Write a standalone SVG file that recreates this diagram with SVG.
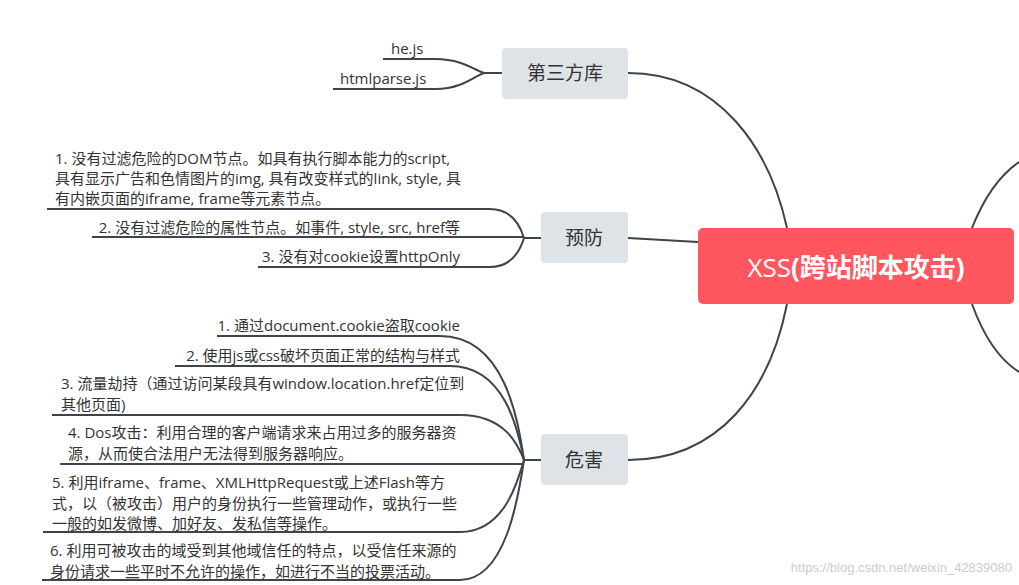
<svg xmlns="http://www.w3.org/2000/svg" width="1019" height="585" viewBox="0 0 1019 585">
<style>
.c{fill:none;stroke:#3d444c;stroke-width:2}
.n{fill:#dde3e6}
.nt{font-family:"Open Sans","Noto Sans CJK SC",sans-serif;font-size:19px;fill:#333;text-anchor:middle}
.t{font-family:"Open Sans","Noto Sans CJK SC",sans-serif;font-size:15px;fill:#333}
.e{text-anchor:end}
</style>
<rect width="1019" height="585" fill="#fff"/>
<g id="connectors">
<path class="c" d="M628,73 C720,73 770,150 787,228"/>
<path class="c" d="M628,460 C720,460 770,390 787,304"/>
<path class="c" d="M628,238 L698,242"/>
<path class="c" d="M972,228 C985,195 1000,175 1019,162"/>
<path class="c" d="M972,304 C985,340 1000,360 1019,372"/>
<path class="c" d="M383,59 H435 C465,59 478,73 485,73 H502"/>
<path class="c" d="M333,89 H435 C465,89 478,73 485,73"/>
<path class="c" d="M47,209 H490 C512,209 520,225 524,238 H541"/>
<path class="c" d="M92,237 H524"/>
<path class="c" d="M258,267 H490 C512,267 520,251 524,238"/>
<path class="c" d="M217,336 H440 C505,336 518,420 524,460 H541"/>
<path class="c" d="M175,366 H450 C505,366 518,430 524,460"/>
<path class="c" d="M52,415 H460 C505,415 518,445 524,460"/>
<path class="c" d="M60,464 H524"/>
<path class="c" d="M43,532 H460 C505,532 518,480 524,460"/>
<path class="c" d="M42,580 H460 C505,580 518,500 524,460"/>
</g>
<g id="center">
<rect x="698" y="228" width="316" height="76" rx="5" fill="#ff5660"/>
<text x="856" y="277" text-anchor="middle" font-family="Open Sans,Noto Sans CJK SC,sans-serif" font-size="26" fill="#fff">XSS<tspan font-weight="bold">(跨站脚本攻击)</tspan></text>
</g>
<g id="n-lib">
<rect class="n" x="502" y="48" width="126" height="51" rx="4"/>
<text class="nt" x="565" y="80">第三方库</text>
</g>
<g id="n-prevent">
<rect class="n" x="541" y="212" width="87" height="51" rx="4"/>
<text class="nt" x="584" y="245">预防</text>
</g>
<g id="n-harm">
<rect class="n" x="541" y="434" width="87" height="51" rx="4"/>
<text class="nt" x="584" y="467">危害</text>
</g>
<g id="lib-items">
<text class="t" x="391" y="54">he.js</text>
<text class="t" x="340" y="84">htmlparse.js</text>
</g>
<g id="prevent-items">
<text class="t" x="55" y="164">1. 没有过滤危险的DOM节点。如具有执行脚本能力的script,</text>
<text class="t" x="55" y="184">具有显示广告和色情图片的img, 具有改变样式的link, style, 具</text>
<text class="t" x="55" y="204">有内嵌页面的iframe, frame等元素节点。</text>
<text class="t e" x="460" y="233">2. 没有过滤危险的属性节点。如事件, style, src, href等</text>
<text class="t e" x="460" y="262">3. 没有对cookie设置httpOnly</text>
</g>
<g id="harm-items">
<text class="t e" x="460" y="331">1. 通过document.cookie盗取cookie</text>
<text class="t e" x="460" y="361">2. 使用js或css破坏页面正常的结构与样式</text>
<text class="t" x="61" y="389">3. 流量劫持（通过访问某段具有window.location.href定位到</text>
<text class="t" x="61" y="410">其他页面)</text>
<text class="t" x="68" y="438">4. Dos攻击：利用合理的客户端请求来占用过多的服务器资</text>
<text class="t" x="68" y="459">源，从而使合法用户无法得到服务器响应。</text>
<text class="t" x="52" y="488">5. 利用iframe、frame、XMLHttpRequest或上述Flash等方</text>
<text class="t" x="52" y="509">式，以（被攻击）用户的身份执行一些管理动作，或执行一些</text>
<text class="t" x="52" y="529">一般的如发微博、加好友、发私信等操作。</text>
<text class="t" x="50" y="556">6. 利用可被攻击的域受到其他域信任的特点，以受信任来源的</text>
<text class="t" x="50" y="577">身份请求一些平时不允许的操作，如进行不当的投票活动。</text>
</g>
<text x="1012" y="572" text-anchor="end" font-family="Liberation Sans,sans-serif" font-size="13" fill="#ccc">https://blog.csdn.net/weixin_42839080</text>
</svg>
